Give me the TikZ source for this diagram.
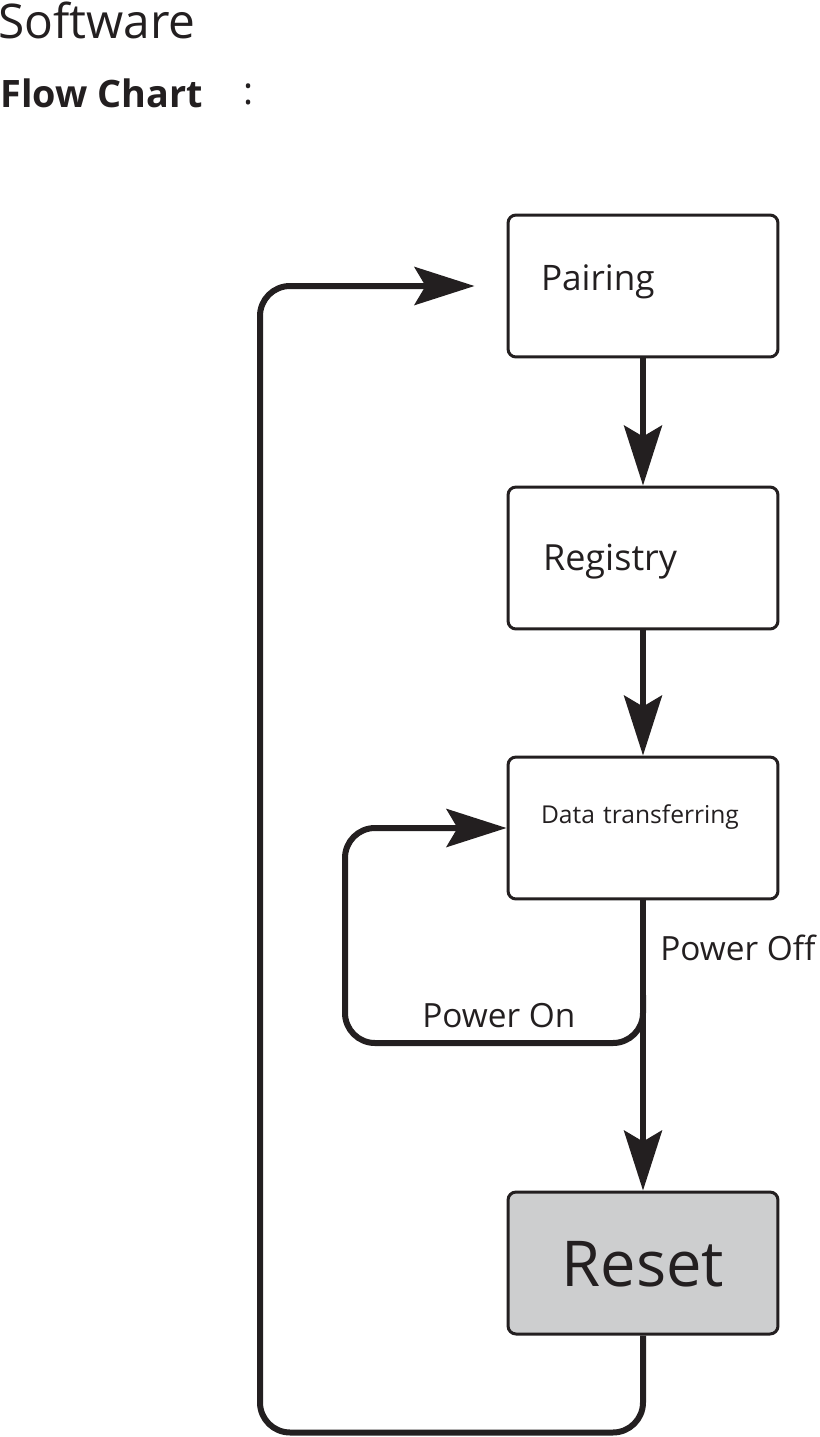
\documentclass[tikz,border=0pt]{standalone}
\usepackage{fontspec}
\setmainfont{Open Sans}
\usetikzlibrary{arrows.meta}
\definecolor{inkgray}{HTML}{231F20}
\definecolor{resetgray}{HTML}{CDCECF}

\begin{document}
\begin{tikzpicture}[x=0.02cm,y=-0.02cm,
        box/.style={draw=inkgray, line width=0.06cm, rounded corners=0.16cm,
          minimum width=5.4cm, minimum height=2.84cm, inner xsep=0.66cm,
          inner ysep=0pt, text width=4.08cm, text height=0pt, text depth=0pt,
          align=left, text=inkgray, font=\fontsize{20}{24}\selectfont},
        flow/.style={draw=inkgray, line width=0.11cm,
          -{Stealth[length=1.2cm,width=0.76cm,inset=0.22cm]}},
        loopline/.style={flow, line width=0.12cm, rounded corners=0.6cm},
        lbl/.style={inner sep=0pt, anchor=base west, text=inkgray,
          font=\fontsize{19}{23}\selectfont}]
        \useasboundingbox (0,0) rectangle (819,1437);

        \node[lbl, font=\fontsize{27.2}{31}\selectfont] (title) at (-2,38) {Software};
        \node[lbl, font=\fontsize{21.5}{26}\bfseries] (sub) at (0,107) {Flow Chart};
        \node[lbl, anchor=base, font=\fontsize{21.5}{26}\selectfont] (colon) at (249,104) {:};

        \node[box] (pair) at (643,286) {\raisebox{-0.08cm}{Pairing}};
        \node[box, font=\fontsize{20.5}{24}\selectfont] (reg) at (643,558)
          {\hspace*{0.04cm}\raisebox{-0.24cm}{Registry}};
        \node[box, font=\fontsize{14}{17}\selectfont] (data) at (643,828)
          {\raisebox{0.1cm}{Data transferring}};
        \node[box, fill=resetgray, align=center, font=\fontsize{36}{40}\selectfont]
          (reset) at (643,1263) {\raisebox{-0.46cm}{Reset}};

        \coordinate (split) at (643,995);

        \draw[flow] (pair) -- (reg);
        \draw[flow] (reg) -- (data);
        \draw[flow] (data) -- (reset);
        \draw[loopline] (split) |- ++(-298,48) |- (data.west);
        \draw[loopline, shorten >=0.64cm] (reset.south) |- ++(-383,97) |- (pair.west);

        \node[lbl] (off) at (660,960) {Power Off};
        \node[lbl] (on) at (422,1027) {Power On};
\end{tikzpicture}
\end{document}
